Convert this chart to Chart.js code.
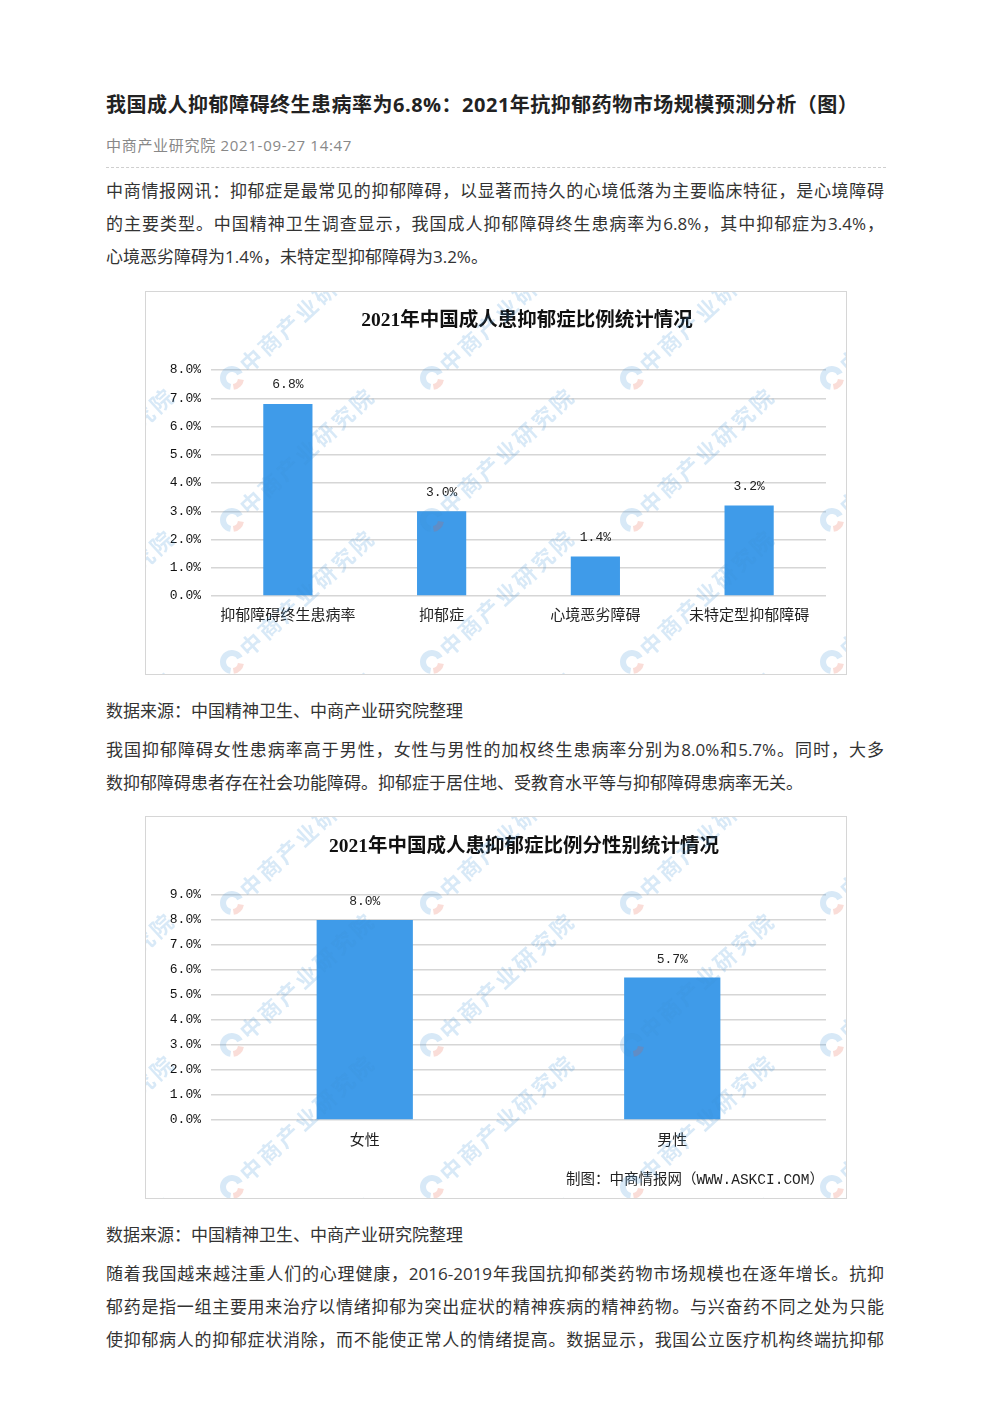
<!DOCTYPE html>
<html lang="zh-CN">
<head>
<meta charset="utf-8">
<title>我国成人抑郁障碍终生患病率为6.8%</title>
<script src="https://cdn.jsdelivr.net/npm/chart.js@4.4.0/dist/chart.umd.min.js"></script>
<style>
  body { margin: 0; background: #fff; font-family: "Open Sans", "Noto Sans CJK SC", sans-serif; color: #333; }
  .page { position: relative; width: 992px; height: 1403px; overflow: hidden; }
  .h1 { position: absolute; left: 106px; top: 90px; line-height: 30px; font-size: 20px; font-weight: bold; color: #222; white-space: nowrap; letter-spacing: 0.5px; }
  .meta { position: absolute; left: 106px; top: 135px; line-height: 20px; font-size: 15px; color: #888; white-space: nowrap; letter-spacing: 0.7px; }
  .dash { position: absolute; left: 106px; top: 167px; width: 780px; border-top: 1px dashed #cfcfcf; }
  .line { position: absolute; left: 106px; width: 778px; height: 33px; line-height: 33px; font-size: 17px; color: #333; }
  .j { text-align: justify; text-align-last: justify; }
  .box { position: absolute; left: 145px; width: 700px; border: 1px solid #d6d6d6; }
  canvas { display: block; }
</style>
</head>
<body>
<div class="page">
  <div class="h1">我国成人抑郁障碍终生患病率为6.8%：2021年抗抑郁药物市场规模预测分析（图）</div>
  <div class="meta">中商产业研究院 2021-09-27 14:47</div>
  <div class="dash"></div>

  <div class="line j" style="top:173.5px">中商情报网讯：抑郁症是最常见的抑郁障碍，以显著而持久的心境低落为主要临床特征，是心境障碍</div>
  <div class="line j" style="top:206.5px">的主要类型。中国精神卫生调查显示，我国成人抑郁障碍终生患病率为6.8%，其中抑郁症为3.4%，</div>
  <div class="line" style="top:239.5px">心境恶劣障碍为1.4%，未特定型抑郁障碍为3.2%。</div>

  <div class="box" style="top:291px;height:382px"><canvas id="chart1" width="700" height="382"></canvas></div>

  <div class="line" style="top:693.5px">数据来源：中国精神卫生、中商产业研究院整理</div>
  <div class="line j" style="top:732.5px">我国抑郁障碍女性患病率高于男性，女性与男性的加权终生患病率分别为8.0%和5.7%。同时，大多</div>
  <div class="line" style="top:765.5px">数抑郁障碍患者存在社会功能障碍。抑郁症于居住地、受教育水平等与抑郁障碍患病率无关。</div>

  <div class="box" style="top:816px;height:381px"><canvas id="chart2" width="700" height="381"></canvas></div>

  <div class="line" style="top:1217.5px">数据来源：中国精神卫生、中商产业研究院整理</div>
  <div class="line j" style="top:1256.5px">随着我国越来越注重人们的心理健康，2016-2019年我国抗抑郁类药物市场规模也在逐年增长。抗抑</div>
  <div class="line j" style="top:1289.5px">郁药是指一组主要用来治疗以情绪抑郁为突出症状的精神疾病的精神药物。与兴奋药不同之处为只能</div>
  <div class="line j" style="top:1322.5px">使抑郁病人的抑郁症状消除，而不能使正常人的情绪提高。数据显示，我国公立医疗机构终端抗抑郁</div>
</div>

<script>
// chart 1: 成人患抑郁症比例
const categories1 = ['抑郁障碍终生患病率', '抑郁症', '心境恶劣障碍', '未特定型抑郁障碍']
const values1 = [6.8, 3.0, 1.4, 3.2]
const yMax1 = 8

// chart 2: 分性别
const categories2 = ['女性', '男性']
const values2 = [8.0, 5.7]
const yMax2 = 9

const barColor = '#3f9be9'
const gridColor = '#d6d6d6'
const monoFont = '"Liberation Mono", "DejaVu Sans Mono"'
const cjkFont = '"Noto Sans CJK SC", sans-serif'

function drawWatermark(ctx){
    const chars = '中商产业研究院'.split('')
    for(let j = -1; j < 4; j++){
        for(let k = -1; k < 5; k++){
            const x = 86 + 200 * k
            const y = 86 + 142 * j
            ctx.save()
            ctx.globalAlpha = 0.2
            ctx.lineWidth = 6
            ctx.strokeStyle = '#3a8fd8'
            ctx.beginPath()
            ctx.arc(x, y, 9, 0.55 * Math.PI, 1.85 * Math.PI)
            ctx.stroke()
            ctx.strokeStyle = '#e8553a'
            ctx.beginPath()
            ctx.arc(x, y, 9, 0.05 * Math.PI, 0.45 * Math.PI)
            ctx.stroke()
            ctx.translate(x, y)
            ctx.rotate(-0.744)
            ctx.fillStyle = '#3a8fd8'
            ctx.font = 'bold 22px ' + cjkFont
            ctx.textAlign = 'center'
            ctx.textBaseline = 'middle'
            chars.forEach((c, i) => ctx.fillText(c, 26 + i * 25, 0))
            ctx.restore()
        }
    }
}

const extras = {
    id: 'extras',
    afterDatasetsDraw(chart, args, opts){
        const ctx = chart.ctx
        const meta = chart.getDatasetMeta(0)
        const data = chart.data.datasets[0].data
        ctx.save()
        ctx.fillStyle = '#222'
        ctx.font = '13px ' + monoFont
        ctx.textAlign = 'center'
        ctx.textBaseline = 'middle'
        meta.data.forEach((bar, i) => {
            ctx.fillText(data[i].toFixed(1) + '%', bar.x, bar.y - opts.labelOffset)
        })
        ctx.restore()
    },
    afterDraw(chart, args, opts){
        const ctx = chart.ctx
        ctx.save()
        ctx.fillStyle = '#111'
        ctx.font = 'bold 19.5px "Liberation Serif", ' + cjkFont
        ctx.textAlign = 'center'
        ctx.textBaseline = 'middle'
        ctx.fillText(opts.title, opts.titleX, opts.titleY)
        if(opts.credit){
            ctx.font = '14.5px ' + monoFont + ', ' + cjkFont
            ctx.textAlign = 'right'
            ctx.fillStyle = '#222'
            ctx.fillText(opts.credit, 678, 363)
        }
        ctx.restore()
        drawWatermark(ctx)
    }
}

function makeBarChart(id, labels, values, yMax, barPct, extraOpts, xPad){
    const context = document.getElementById(id).getContext('2d')
    return new Chart(context, {
        type: 'bar',
        data: {
            labels: labels,
            datasets: [{
                data: values,
                backgroundColor: barColor,
                borderWidth: 0,
                categoryPercentage: 1,
                barPercentage: barPct
            }]
        },
        options: {
            responsive: false,
            animation: false,
            devicePixelRatio: 1,
            layout: { padding: { top: 78, right: 20, bottom: 0, left: 0 } },
            plugins: {
                legend: { display: false },
                tooltip: { enabled: false },
                extras: extraOpts
            },
            scales: {
                x: {
                    afterFit: (s) => { s.height = 78 },
                    grid: { display: false, drawTicks: false },
                    border: { display: false },
                    ticks: {
                        color: '#222',
                        padding: xPad,
                        maxRotation: 0,
                        autoSkip: false,
                        font: { family: cjkFont, size: 15 }
                    }
                },
                y: {
                    min: 0,
                    max: yMax,
                    afterFit: (s) => { s.width = 65 },
                    grid: { color: gridColor, lineWidth: 1.5, drawTicks: false },
                    border: { display: false },
                    ticks: {
                        stepSize: 1,
                        color: '#111',
                        padding: 10,
                        font: { family: monoFont, size: 13 },
                        callback: (v) => v.toFixed(1) + '%'
                    }
                }
            }
        },
        plugins: [extras]
    })
}

makeBarChart('chart1', categories1, values1, yMax1, 0.32,
    { title: '2021年中国成人患抑郁症比例统计情况', titleX: 381, titleY: 29, labelOffset: 19 }, 9)

makeBarChart('chart2', categories2, values2, yMax2, 0.313,
    { title: '2021年中国成人患抑郁症比例分性别统计情况', titleX: 378, titleY: 30, labelOffset: 18,
      credit: '制图：中商情报网（WWW.ASKCI.COM）' }, 10)
</script>
</body>
</html>
